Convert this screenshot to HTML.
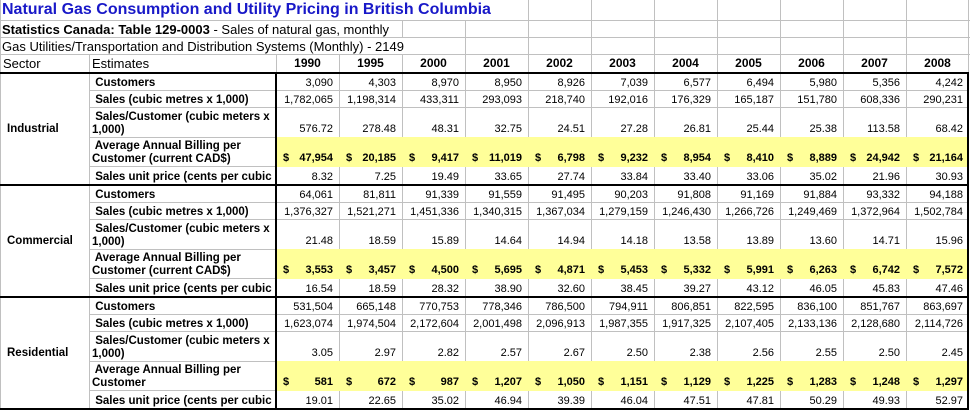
<!DOCTYPE html>
<html><head><meta charset="utf-8">
<style>
*{margin:0;padding:0;box-sizing:border-box}
body{width:970px;height:410px;overflow:hidden;background:#fff;font-family:"Liberation Sans",Arial,sans-serif;color:#000}
#p{position:relative;width:970px;height:410px;overflow:hidden;background:#fff}
.g{position:absolute;background:#c0c0c0}
.k{position:absolute;background:#000}
.yl{position:absolute;background:#ffff99;left:277px;width:690px;height:30px}
.t{position:absolute;white-space:nowrap}
.rw{position:absolute;left:0;width:969px;height:13px;line-height:13px;font-size:11px}
.lb{position:absolute;left:92px;top:0;width:183px;overflow:hidden;white-space:pre;font-weight:bold;font-size:11.5px;line-height:13px}
.lb2{position:absolute;left:92px;bottom:0;width:183px;overflow:hidden;white-space:pre;font-weight:bold;font-size:11.5px;line-height:12.5px}
.ds{position:absolute;left:276px;top:0;display:flex}
.ds span{display:block;width:63px;padding-right:6px;text-align:right;white-space:nowrap}
.ds.y span{display:flex;justify-content:space-between;padding-left:7px;font-weight:bold}
.sec{position:absolute;left:7px;width:80px;height:110px;display:flex;align-items:center;font-weight:bold;font-size:11.5px}
.yr{position:absolute;left:276px;top:55px;display:flex;line-height:17px;font-size:12px;font-weight:bold}
.yr span{display:block;width:63px;text-align:center}
</style></head><body>
<div id="p">
<!-- header horizontal gridlines -->
<div class="g" style="left:0;top:20px;width:970px;height:1px"></div>
<div class="g" style="left:0;top:37px;width:970px;height:1px"></div>
<div class="g" style="left:0;top:54px;width:970px;height:1px"></div>
<!-- vertical gridlines -->
<div class="g" style="left:0;top:0;width:1px;height:410px"></div>
<div class="g" style="left:89px;top:54px;width:1px;height:356px"></div>
<div class="g" style="left:276px;top:54px;width:1px;height:18px"></div>
<div class="g" style="left:339px;top:54px;width:1px;height:354px"></div>
<div class="g" style="left:402px;top:20px;width:1px;height:17px"></div>
<div class="g" style="left:402px;top:54px;width:1px;height:354px"></div>
<div class="g" style="left:465px;top:20px;width:1px;height:388px"></div>
<div class="g" style="left:528px;top:0;width:1px;height:408px"></div>
<div class="g" style="left:591px;top:0;width:1px;height:408px"></div>
<div class="g" style="left:654px;top:0;width:1px;height:408px"></div>
<div class="g" style="left:717px;top:0;width:1px;height:408px"></div>
<div class="g" style="left:780px;top:0;width:1px;height:408px"></div>
<div class="g" style="left:843px;top:0;width:1px;height:408px"></div>
<div class="g" style="left:906px;top:0;width:1px;height:408px"></div>
<div class="g" style="left:968px;top:0;width:1px;height:72px"></div>
<!-- section horizontal gridlines -->
<div class="g" style="left:89px;top:90px;width:879px;height:1px"></div>
<div class="g" style="left:89px;top:107px;width:879px;height:1px"></div>
<div class="g" style="left:89px;top:137px;width:879px;height:1px"></div>
<div class="g" style="left:89px;top:166px;width:879px;height:1px"></div>
<div class="g" style="left:89px;top:202px;width:879px;height:1px"></div>
<div class="g" style="left:89px;top:219px;width:879px;height:1px"></div>
<div class="g" style="left:89px;top:249px;width:879px;height:1px"></div>
<div class="g" style="left:89px;top:278px;width:879px;height:1px"></div>
<div class="g" style="left:89px;top:314px;width:879px;height:1px"></div>
<div class="g" style="left:89px;top:331px;width:879px;height:1px"></div>
<div class="g" style="left:89px;top:361px;width:879px;height:1px"></div>
<div class="g" style="left:89px;top:390px;width:879px;height:1px"></div>
<!-- yellow fills -->
<div class="yl" style="top:137px"></div>
<div class="yl" style="top:249px"></div>
<div class="yl" style="top:361px"></div>
<!-- thick borders -->
<div class="k" style="left:0;top:72px;width:969px;height:2px"></div>
<div class="k" style="left:0;top:184px;width:969px;height:2px"></div>
<div class="k" style="left:0;top:296px;width:969px;height:2px"></div>
<div class="k" style="left:0;top:408px;width:969px;height:2px"></div>
<div class="k" style="left:275px;top:72px;width:2px;height:338px"></div>
<div class="k" style="left:967px;top:72px;width:2px;height:338px"></div>

<!-- header text -->
<div class="t" style="left:2px;top:0;line-height:20px;font-size:16px;font-weight:bold;color:#1818c8">Natural Gas Consumption and Utility Pricing in British Columbia</div>
<div class="t" style="left:2px;top:21px;line-height:17px;font-size:13px"><b>Statistics Canada: Table 129-0003</b> - Sales of natural gas, monthly</div>
<div class="t" style="left:2px;top:38px;line-height:17px;font-size:13px">Gas Utilities/Transportation and Distribution Systems (Monthly) - 2149</div>
<div class="t" style="left:3px;top:55px;line-height:17px;font-size:13px">Sector</div>
<div class="t" style="left:92px;top:55px;line-height:17px;font-size:13px">Estimates</div>
<div class="yr"><span>1990</span><span>1995</span><span>2000</span><span>2001</span><span>2002</span><span>2003</span><span>2004</span><span>2005</span><span>2006</span><span>2007</span><span>2008</span></div>

<!-- Industrial -->
<div class="sec" style="top:74px">Industrial</div>
<div class="rw" style="top:77px"><div class="lb"> Customers</div><div class="ds"><span>3,090</span><span>4,303</span><span>8,970</span><span>8,950</span><span>8,926</span><span>7,039</span><span>6,577</span><span>6,494</span><span>5,980</span><span>5,356</span><span>4,242</span></div></div>
<div class="rw" style="top:94px"><div class="lb"> Sales (cubic metres x 1,000)</div><div class="ds"><span>1,782,065</span><span>1,198,314</span><span>433,311</span><span>293,093</span><span>218,740</span><span>192,016</span><span>176,329</span><span>165,187</span><span>151,780</span><span>608,336</span><span>290,231</span></div></div>
<div class="rw" style="top:123px"><div class="lb2"> Sales/Customer (cubic meters x
1,000)</div><div class="ds"><span>576.72</span><span>278.48</span><span>48.31</span><span>32.75</span><span>24.51</span><span>27.28</span><span>26.81</span><span>25.44</span><span>25.38</span><span>113.58</span><span>68.42</span></div></div>
<div class="rw" style="top:152px"><div class="lb2"> Average Annual Billing per
Customer (current CAD$)</div><div class="ds y"><span><b>$</b><b>47,954</b></span><span><b>$</b><b>20,185</b></span><span><b>$</b><b>9,417</b></span><span><b>$</b><b>11,019</b></span><span><b>$</b><b>6,798</b></span><span><b>$</b><b>9,232</b></span><span><b>$</b><b>8,954</b></span><span><b>$</b><b>8,410</b></span><span><b>$</b><b>8,889</b></span><span><b>$</b><b>24,942</b></span><span><b>$</b><b>21,164</b></span></div></div>
<div class="rw" style="top:171px"><div class="lb"> Sales unit price (cents per cubic metre)</div><div class="ds"><span>8.32</span><span>7.25</span><span>19.49</span><span>33.65</span><span>27.74</span><span>33.84</span><span>33.40</span><span>33.06</span><span>35.02</span><span>21.96</span><span>30.93</span></div></div>

<!-- Commercial -->
<div class="sec" style="top:186px">Commercial</div>
<div class="rw" style="top:189px"><div class="lb"> Customers</div><div class="ds"><span>64,061</span><span>81,811</span><span>91,339</span><span>91,559</span><span>91,495</span><span>90,203</span><span>91,808</span><span>91,169</span><span>91,884</span><span>93,332</span><span>94,188</span></div></div>
<div class="rw" style="top:206px"><div class="lb"> Sales (cubic metres x 1,000)</div><div class="ds"><span>1,376,327</span><span>1,521,271</span><span>1,451,336</span><span>1,340,315</span><span>1,367,034</span><span>1,279,159</span><span>1,246,430</span><span>1,266,726</span><span>1,249,469</span><span>1,372,964</span><span>1,502,784</span></div></div>
<div class="rw" style="top:235px"><div class="lb2"> Sales/Customer (cubic meters x
1,000)</div><div class="ds"><span>21.48</span><span>18.59</span><span>15.89</span><span>14.64</span><span>14.94</span><span>14.18</span><span>13.58</span><span>13.89</span><span>13.60</span><span>14.71</span><span>15.96</span></div></div>
<div class="rw" style="top:264px"><div class="lb2"> Average Annual Billing per
Customer (current CAD$)</div><div class="ds y"><span><b>$</b><b>3,553</b></span><span><b>$</b><b>3,457</b></span><span><b>$</b><b>4,500</b></span><span><b>$</b><b>5,695</b></span><span><b>$</b><b>4,871</b></span><span><b>$</b><b>5,453</b></span><span><b>$</b><b>5,332</b></span><span><b>$</b><b>5,991</b></span><span><b>$</b><b>6,263</b></span><span><b>$</b><b>6,742</b></span><span><b>$</b><b>7,572</b></span></div></div>
<div class="rw" style="top:283px"><div class="lb"> Sales unit price (cents per cubic metre)</div><div class="ds"><span>16.54</span><span>18.59</span><span>28.32</span><span>38.90</span><span>32.60</span><span>38.45</span><span>39.27</span><span>43.12</span><span>46.05</span><span>45.83</span><span>47.46</span></div></div>

<!-- Residential -->
<div class="sec" style="top:298px">Residential</div>
<div class="rw" style="top:301px"><div class="lb"> Customers</div><div class="ds"><span>531,504</span><span>665,148</span><span>770,753</span><span>778,346</span><span>786,500</span><span>794,911</span><span>806,851</span><span>822,595</span><span>836,100</span><span>851,767</span><span>863,697</span></div></div>
<div class="rw" style="top:318px"><div class="lb"> Sales (cubic metres x 1,000)</div><div class="ds"><span>1,623,074</span><span>1,974,504</span><span>2,172,604</span><span>2,001,498</span><span>2,096,913</span><span>1,987,355</span><span>1,917,325</span><span>2,107,405</span><span>2,133,136</span><span>2,128,680</span><span>2,114,726</span></div></div>
<div class="rw" style="top:347px"><div class="lb2"> Sales/Customer (cubic meters x
1,000)</div><div class="ds"><span>3.05</span><span>2.97</span><span>2.82</span><span>2.57</span><span>2.67</span><span>2.50</span><span>2.38</span><span>2.56</span><span>2.55</span><span>2.50</span><span>2.45</span></div></div>
<div class="rw" style="top:376px"><div class="lb2"> Average Annual Billing per
Customer</div><div class="ds y"><span><b>$</b><b>581</b></span><span><b>$</b><b>672</b></span><span><b>$</b><b>987</b></span><span><b>$</b><b>1,207</b></span><span><b>$</b><b>1,050</b></span><span><b>$</b><b>1,151</b></span><span><b>$</b><b>1,129</b></span><span><b>$</b><b>1,225</b></span><span><b>$</b><b>1,283</b></span><span><b>$</b><b>1,248</b></span><span><b>$</b><b>1,297</b></span></div></div>
<div class="rw" style="top:395px"><div class="lb"> Sales unit price (cents per cubic metre)</div><div class="ds"><span>19.01</span><span>22.65</span><span>35.02</span><span>46.94</span><span>39.39</span><span>46.04</span><span>47.51</span><span>47.81</span><span>50.29</span><span>49.93</span><span>52.97</span></div></div>
</div>
</body></html>
